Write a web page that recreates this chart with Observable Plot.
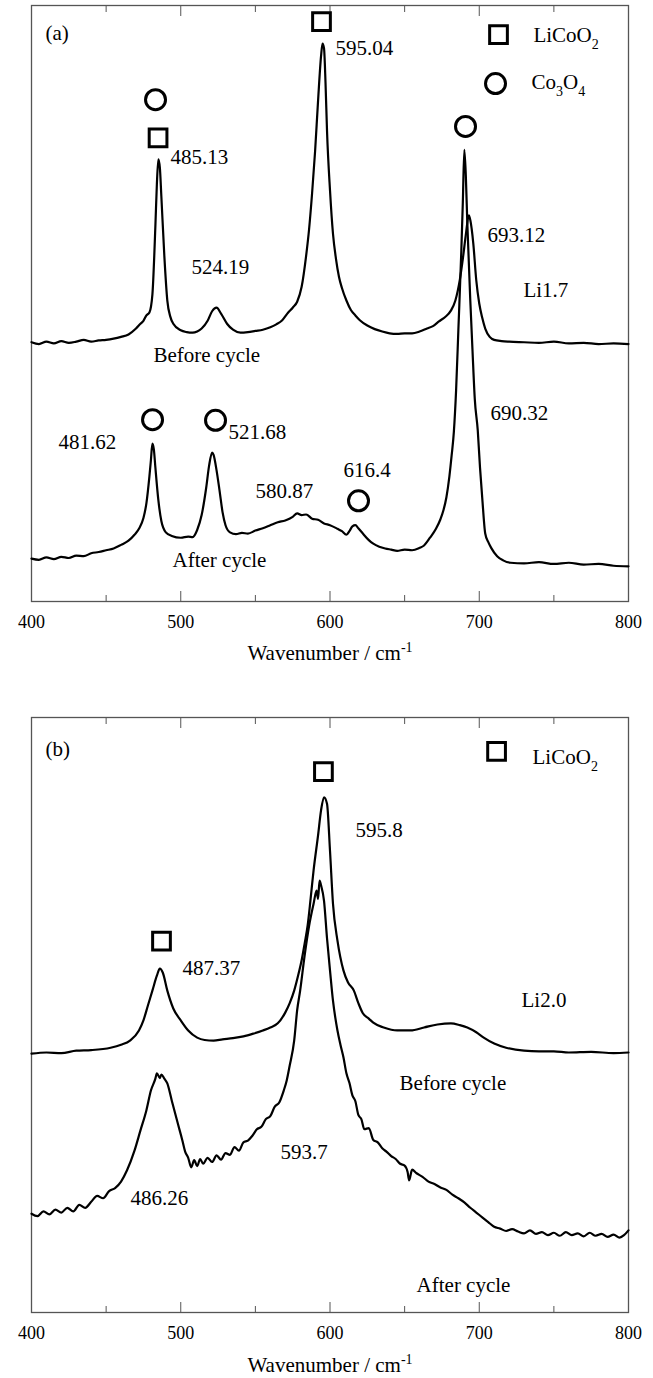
<!DOCTYPE html>
<html><head><meta charset="utf-8">
<script src="https://cdn.jsdelivr.net/npm/d3@7"></script>
<script src="https://cdn.jsdelivr.net/npm/@observablehq/plot@0.6"></script>
<style>
body{margin:0;background:#fff;}
#chart{width:653px;}
#chart svg{display:block;}
</style>
</head><body><div id="chart"></div>
<script>
// ---------- Panel (a): Li1.7 ----------
const aBeforeX = [400,405,410,415,420,425,430,435,440,445,450,455,460,465,470,473,475,477,479,481,483,484,485,486,487,489,491,493,495,500,504,508,511,514,518,521,524,527,531,535,540,545,550,555,560,564,568,572,575,578,581,584,586,588,590,592,594,595,596,597,598,600,602,604,606,608,611,614,617,620,625,630,635,640,645,650,655,660,665,669,673,677,681,684,687,689,691,693,694,696,698,700,702,704,707,710,715,720,730,740,750,760,770,780,790,800];
const aBeforeY = [43.5,43.2,43.6,43.3,43.7,43.4,43.6,43.9,43.6,43.8,43.9,44.1,44.4,44.8,45.8,46.6,47.1,48.0,48.5,51.5,63.0,70.0,74.2,72.8,68.0,58.0,50.5,47.8,46.6,45.5,45.2,45.1,45.3,45.8,47.1,48.7,49.3,48.3,46.6,45.6,45.1,45.2,45.4,45.6,46.0,46.5,47.2,48.5,49.3,50.3,52.8,58.0,62.5,68.5,75.5,84.0,91.5,93.6,92.8,87.0,79.0,69.0,61.7,57.5,54.5,52.6,50.5,48.9,48.0,47.2,46.3,45.7,45.3,45.0,44.9,45.0,45.0,45.3,45.8,46.2,47.0,47.7,48.8,50.5,54.0,57.5,61.5,64.8,64.0,60.1,53.9,50.0,47.6,45.8,44.4,43.9,43.7,43.6,43.5,43.4,43.6,43.3,43.4,43.2,43.3,43.2];

const aAfterX = [400,405,410,415,420,425,430,435,440,445,450,455,460,465,469,472,475,477,479,480,481,482,483,485,487,490,494,500,505,508,511,514,517,519,521,522,524,526,528,530,533,537,541,545,550,555,560,565,570,575,578,581,584,588,592,596,600,605,608,611,613,615,617,619,622,626,629,633,637,641,645,650,655,660,663,667,671,674,676,678,680,681.5,683,684.5,686,688,689,690,691,692,694,695.5,697,699,700.5,702,704,706,708,712,716,721,730,740,750,760,770,780,790,800];
const aAfterY = [7.2,7.0,7.4,7.1,7.5,7.3,7.7,7.6,8.1,8.3,8.6,8.9,9.5,10.2,11.2,12.2,14.0,16.5,21.0,23.7,26.5,25.5,22.5,17.0,13.5,11.6,11.0,10.7,10.9,10.8,12.0,14.5,19.0,22.8,25.0,24.6,22.0,18.6,15.0,12.8,11.6,11.3,11.5,11.4,11.9,12.3,12.8,13.3,13.6,14.2,14.8,14.5,14.6,13.9,13.7,13.1,12.8,12.2,11.8,11.2,11.8,12.6,12.8,12.3,11.4,10.3,9.7,9.2,8.9,8.7,8.5,8.7,8.6,9.0,9.4,10.7,12.2,13.8,15.3,17.5,21.0,24.5,28.5,35.5,45.5,58.9,67.0,75.8,71.5,63.5,50.5,42.0,34.0,28.7,22.5,17.4,11.4,10.0,9.0,7.6,6.9,6.5,6.4,6.6,6.3,6.5,6.2,6.3,6.0,5.9];

const aSquares = [{x: 484.8, y: 77.8}, {x: 594.3, y: 97.3}, {x: 712.9, y: 95.1}];
const aCircles = [{x: 483.1, y: 84.2}, {x: 710.9, y: 86.9}, {x: 690.8, y: 79.7}, {x: 481.1, y: 30.5}, {x: 523.3, y: 30.4}, {x: 619.1, y: 16.9}];
const aLabels = [
  {text: "(a)", x: 409.4, y: 95.3},
  {text: "485.13", x: 493.1, y: 74.5},
  {text: "524.19", x: 507.2, y: 56.0},
  {text: "595.04", x: 603.7, y: 92.8},
  {text: "LiCoO2", x: 736.3, y: 95.0},
  {text: "Co3O4", x: 735.0, y: 87.1},
  {text: "693.12", x: 705.5, y: 61.4},
  {text: "Li1.7", x: 729.6, y: 52.2},
  {text: "Before cycle", x: 481.7, y: 41.3},
  {text: "481.62", x: 418.1, y: 26.7},
  {text: "521.68", x: 532.0, y: 28.4},
  {text: "580.87", x: 550.1, y: 18.5},
  {text: "616.4", x: 609.0, y: 22.1},
  {text: "690.32", x: 707.5, y: 31.5},
  {text: "After cycle", x: 494.5, y: 6.9}
];

// ---------- Panel (b): Li2.0 ----------
const bBeforeX = [400,410,420,430,440,453,460,466,472,475,478,481,484,486,488,491,495,500,505,511,516,522,528,535,542,549,555,560,565,570,573,576,579,581,583,585,587,589,592,594,596,598,600,602,605,609,612,616,619,622,626,629,636,645,654,663,672,681,687,692,698,703,710,718,730,740,750,760,775,790,800];
const bBeforeY = [43.5,43.7,43.6,44.0,44.1,44.5,45.0,45.7,47.4,49.1,51.6,54.1,56.6,57.8,57.1,54.1,51.1,49.1,47.4,46.2,45.8,45.7,45.9,46.1,46.4,46.9,47.4,47.9,48.6,50.4,52.0,54.1,57.0,59.2,62.0,65.0,69.5,74.3,80.2,84.4,86.6,85.5,77.6,68.7,62.5,57.5,55.5,54.1,52.0,50.3,49.4,48.7,47.9,47.4,47.4,47.9,48.4,48.6,48.3,47.9,47.1,46.2,45.2,44.5,44.0,43.9,43.9,43.7,43.8,43.6,43.7];

const bAfterX = [400,404,408,412,416,420,424,428,432,436,440,444,448,452,456,460,464,469,473,477,480,483,484,486,487,489,491,494,498,501,503,505,507,509,511,513,515,518,521,524,527,530,533,536,539,542,545,548,551,554,557,560,563,566,569,571,573,576,578,580,583,586,589,591,592,593,594,596,598,600,602,605,607,609,611,613,615,617,619,621,623,626,629,632,635,638,641,644,647,650,652,653,655,658,662,666,670,674,678,682,686,690,694,698,702,706,710,714,718,722,726,730,734,738,742,746,750,754,758,762,766,770,774,778,782,786,790,794,797,800];
const bAfterY = [16.6,16.2,17.0,16.5,17.3,16.8,17.6,17.0,18.1,17.6,18.6,19.6,19.2,20.4,20.9,22.0,23.9,27.2,30.6,34.0,37.3,39.3,40.2,39.4,40.0,39.3,38.5,35.6,31.8,29.0,27.0,26.0,24.4,25.6,24.6,25.8,25.0,26.0,25.3,26.4,25.7,26.8,26.5,27.8,27.2,28.6,28.9,29.7,30.8,31.2,32.5,33.0,34.6,35.3,37.3,39.0,41.5,45.7,50.8,54.1,60.0,65.0,68.7,70.9,69.5,72.6,71.8,69.2,62.9,57.5,52.4,47.4,45.0,42.9,40.2,38.6,36.5,35.5,33.2,32.5,30.8,31.0,29.0,28.6,27.6,27.0,26.3,25.8,25.0,24.7,23.6,22.2,24.0,23.4,22.8,22.0,21.6,21.0,20.6,19.8,19.2,18.5,17.6,16.8,16.0,15.2,14.4,14.1,13.7,14.0,13.6,13.3,13.8,13.2,13.5,13.0,13.4,12.9,13.5,13.0,13.3,12.8,13.4,12.9,13.2,12.7,13.1,12.6,13.0,13.8];

const bSquares = [{x: 595.6, y: 90.9}, {x: 711.6, y: 94.3}, {x: 487.1, y: 62.4}];
const bCircles = [];
const bLabels = [
  {text: "(b)", x: 409.4, y: 94.6},
  {text: "LiCoO2", x: 735.7, y: 93.3},
  {text: "595.8", x: 617.1, y: 81.0},
  {text: "487.37", x: 501.2, y: 57.8},
  {text: "Li2.0", x: 728.3, y: 52.4},
  {text: "Before cycle", x: 646.6, y: 38.5},
  {text: "593.7", x: 566.8, y: 26.9},
  {text: "486.26", x: 466.3, y: 19.2},
  {text: "After cycle", x: 658.0, y: 4.5}
];

// ---------- shared ----------
const majorTicks = [400, 500, 600, 700, 800];
const minorTicks = [450, 550, 650, 750];
const xTitle = "Wavenumber / cm-1";
const FONT = "'Liberation Serif', 'Times New Roman', serif";

const toRows = (xs, ys) => xs.map((x, i) => ({x, y: ys[i]}));

function richText(svg) {
  const rules = [
    ["LiCoO2", [["LiCoO"], ["2", "sub"]]],
    ["Co3O4", [["Co"], ["3", "sub"], ["O"], ["4", "sub"]]],
    [xTitle, [["Wavenumber / cm"], ["-1", "sup"]]]
  ];
  d3.select(svg).selectAll("text").each(function () {
    const t = this.textContent.trim();
    const rule = rules.find(r => t === r[0] || t.startsWith(r[0]));
    if (!rule) return;
    const el = d3.select(this);
    el.selectAll("*").remove();
    el.text(null);
    let shift = 0;
    for (const [s, kind] of rule[1]) {
      const target = kind === "sub" ? 7 : kind === "sup" ? -8 : 0;
      const ts = el.append("tspan").attr("dy", target - shift).text(s);
      if (kind) ts.attr("font-size", 14);
      shift = target;
    }
  });
}

function panel({lines, squares, circles, labels, height, marginTop, marginBottom, labelOffset}) {
  const svg = Plot.plot({
    width: 653,
    height,
    marginLeft: 31,
    marginRight: 25,
    marginTop,
    marginBottom,
    style: {fontFamily: FONT, background: "white", color: "black"},
    x: {domain: [400, 800]},
    y: {domain: [0, 100], axis: null},
    marks: [
      Plot.frame({stroke: "#555", strokeWidth: 1.3}),
      Plot.axisX({ticks: majorTicks, tickSize: -10, tickPadding: 24, fontSize: 18, label: null, stroke: "#555", fill: "black"}),
      Plot.axisX({ticks: minorTicks, tickSize: -6, tickFormat: () => "", label: null, stroke: "#555"}),
      Plot.axisX({anchor: "top", ticks: majorTicks, tickSize: -10, tickFormat: () => "", label: null, stroke: "#555"}),
      Plot.axisX({anchor: "top", ticks: minorTicks, tickSize: -6, tickFormat: () => "", label: null, stroke: "#555"}),
      Plot.axisX({ticks: [], tickSize: 0, label: xTitle, labelAnchor: "center", labelArrow: "none", labelOffset, fontSize: 21, fill: "black"}),
      ...lines.map(rows => Plot.line(rows, {x: "x", y: "y", stroke: "black", strokeWidth: 2.2, curve: "monotone-x"})),
      Plot.dot(squares, {x: "x", y: "y", symbol: "square", r: 10, stroke: "black", strokeWidth: 3, fill: "none"}),
      Plot.dot(circles, {x: "x", y: "y", symbol: "circle", r: 10, stroke: "black", strokeWidth: 3, fill: "none"}),
      Plot.text(labels, {x: "x", y: "y", text: "text", textAnchor: "start", lineAnchor: "middle", fontSize: 21, fill: "black"})
    ]
  });
  richText(svg);
  return svg;
}

const root = document.getElementById("chart");
root.appendChild(panel({
  lines: [toRows(aBeforeX, aBeforeY), toRows(aAfterX, aAfterY)],
  squares: aSquares, circles: aCircles, labels: aLabels,
  height: 670, marginTop: 5, marginBottom: 69, labelOffset: 58
}));
root.appendChild(panel({
  lines: [toRows(bBeforeX, bBeforeY), toRows(bAfterX, bAfterY)],
  squares: bSquares, circles: bCircles, labels: bLabels,
  height: 708, marginTop: 47, marginBottom: 66, labelOffset: 59
}));
</script>
</body></html>
